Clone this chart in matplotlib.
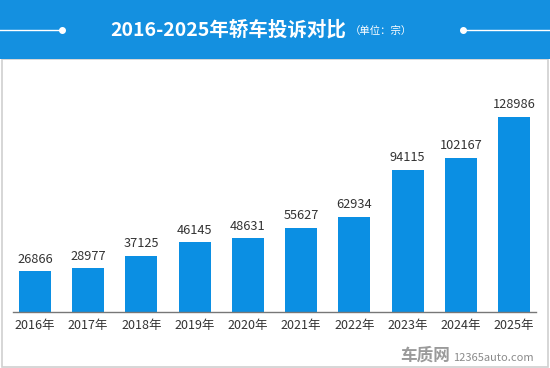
import matplotlib
matplotlib.use("Agg")
import matplotlib.pyplot as plt
from matplotlib.patches import Rectangle
from matplotlib.lines import Line2D

plt.rcParams['font.family'] = ['Noto Sans CJK SC', 'DejaVu Sans']

years = ["2016年", "2017年", "2018年", "2019年", "2020年", "2021年", "2022年", "2023年", "2024年", "2025年"]
values = [26866, 28977, 37125, 46145, 48631, 55627, 62934, 94115, 102167, 128986]

W, H = 550, 368
fig = plt.figure(figsize=(W / 100, H / 100), dpi=100)
fig.patch.set_facecolor("white")

# border of panel
fig.add_artist(Rectangle((1.5 / W, 1.5 / H), (W - 4) / W, (H - 60) / H, transform=fig.transFigure,
                         facecolor="white", edgecolor="#d0d0d0", linewidth=1.2, zorder=0))

# header band
hdr_color = "#1490e0"
fig.add_artist(Rectangle((0, (H - 59) / H), 1, 59 / H, transform=fig.transFigure,
                         facecolor=hdr_color, edgecolor="none", zorder=1))
ty = (H - 30) / H
fig.add_artist(Line2D([0, 62 / W], [ty, ty], transform=fig.transFigure, color="white", lw=1, zorder=2))
fig.add_artist(Line2D([463 / W, 1], [ty, ty], transform=fig.transFigure, color="white", lw=1, zorder=2))
fig.add_artist(Line2D([62 / W], [ty], transform=fig.transFigure, color="white", marker="o", ms=4, lw=0, zorder=2))
fig.add_artist(Line2D([463 / W], [ty], transform=fig.transFigure, color="white", marker="o", ms=4, lw=0, zorder=2))
fig.text(346 / W, ty, "2016-2025年轿车投诉对比", color="white", fontsize=14, fontweight="bold",
         ha="right", va="center", zorder=3)
fig.text(350 / W, ty - 1 / H, "（单位：宗）", color="white", fontsize=7.5, ha="left", va="center", zorder=3)

# axes
ax = fig.add_axes([13 / W, 56 / H, 523 / W, 240 / H])
ax.set_facecolor("none")
x = list(range(len(years)))
ax.bar(x, values, width=0.6, color="#0b8fe3", zorder=2)
ax.set_xlim(-0.41, 9.41)
ax.set_ylim(0, 128986 * 240 / 195)
for xi, v in zip(x, values):
    ax.annotate(f"{v}", (xi, v), xytext=(0, 4), textcoords="offset points",
                ha="center", va="bottom", fontsize=9.2, color="#333333")
ax.set_xticks(x)
ax.set_xticklabels(years, fontsize=9, color="#333333")
ax.tick_params(axis="x", length=0, pad=5)
ax.set_yticks([])
for s in ["top", "right", "left"]:
    ax.spines[s].set_visible(False)
ax.spines["bottom"].set_color("#777777")
ax.spines["bottom"].set_linewidth(1)

# watermark
fig.text(400 / W, 12 / H, "车质网", color="#9a9a9a", fontsize=12, fontweight="bold", ha="left", va="center")
fig.text(453 / W, 10 / H, "12365auto.com", color="#8a8a8a", fontsize=8, ha="left", va="center")

fig.savefig("out.png", dpi=100, facecolor="white")
